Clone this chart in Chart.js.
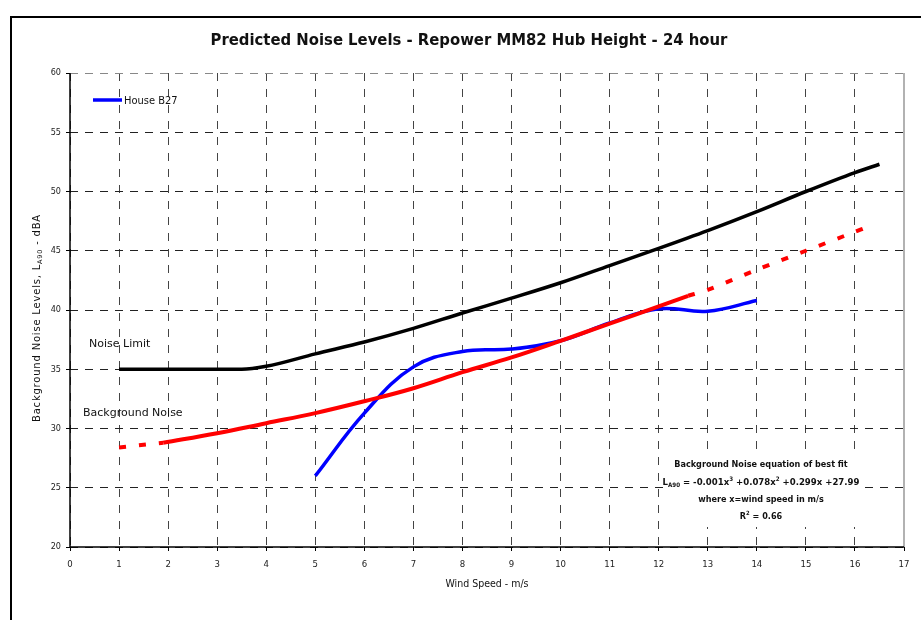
<!DOCTYPE html>
<html>
<head>
    <script src="https://cdn.jsdelivr.net/npm/chart.js@4.4.1/dist/chart.umd.min.js"></script>
    <style>
        body {
            margin: 0;
            background-color: #ffffff;
        }
        #wrap {
            width: 921px;
            height: 620px;
            position: relative;
        }
    </style>
</head>
<body>
    <div id="wrap"><canvas id="noiseChart"></canvas></div>
    <script>
        // values
        var limitSpeed = [1, 2, 3, 3.5, 4, 5, 6, 7, 8, 9, 10, 11, 12, 13, 14, 15, 16, 16.5];
        var limitLevel = [35, 35, 35, 35, 35.25, 36.3, 37.3, 38.45, 39.75, 41.0, 42.3, 43.75, 45.2, 46.7, 48.3, 50.0, 51.6, 52.3];

        var fitSpeed = [1.9, 3, 4, 5, 6, 7, 8, 9, 10, 11, 12, 12.6];
        var fitLevel = [28.8, 29.6, 30.45, 31.3, 32.3, 33.4, 34.75, 36.0, 37.4, 38.85, 40.3, 41.2];

        var fitLowSpeed = [1, 1.9];
        var fitLowLevel = [28.4, 28.8];

        var fitHighSpeed = [12.6, 13, 14, 15, 16, 16.25];
        var fitHighLevel = [41.2, 41.7, 43.4, 45.0, 46.6, 47.0];

        var houseSpeed = [5, 6, 7, 8, 9, 10, 11, 12, 13, 14];
        var houseLevel = [26.0, 31.3, 35.2, 36.5, 36.7, 37.4, 38.9, 40.1, 39.9, 40.8];

        var xTicks = { min: 0, max: 17, step: 1 };
        var yTicks = { min: 20, max: 60, step: 5 };

        function pairs(xs, ys) {
            return xs.map(function (x, i) { return { x: x, y: ys[i] }; });
        }

        var FONT = '"DejaVu Sans Condensed", "DejaVu Sans", sans-serif';
        var WIDE = '"DejaVu Sans", sans-serif';

        // title, labels, legend, frame, solid axes
        var decorations = {
            id: 'decorations',
            afterDraw: function (chart) {
                var ctx = chart.ctx;
                var area = chart.chartArea;
                ctx.save();

                // outer frame
                ctx.strokeStyle = '#000';
                ctx.lineWidth = 2;
                ctx.beginPath();
                ctx.moveTo(11, 620);
                ctx.lineTo(11, 17);
                ctx.lineTo(921, 17);
                ctx.stroke();

                // right edge of plot
                ctx.strokeStyle = '#999';
                ctx.lineWidth = 1.5;
                ctx.beginPath();
                ctx.moveTo(area.right, area.top);
                ctx.lineTo(area.right, area.bottom);
                ctx.stroke();

                // solid axis lines
                ctx.strokeStyle = '#000';
                ctx.lineWidth = 1.5;
                ctx.beginPath();
                ctx.moveTo(area.left, area.top);
                ctx.lineTo(area.left, area.bottom);
                ctx.lineTo(area.right, area.bottom);
                ctx.stroke();

                ctx.fillStyle = '#111';
                ctx.textBaseline = 'middle';

                ctx.font = 'bold 16.5px ' + FONT;
                ctx.textAlign = 'center';
                ctx.fillText('Predicted Noise Levels - Repower MM82 Hub Height - 24 hour', 469, 41);

                // legend
                ctx.strokeStyle = '#0000ff';
                ctx.lineWidth = 3.5;
                ctx.beginPath();
                ctx.moveTo(93, 100);
                ctx.lineTo(122, 100);
                ctx.stroke();
                ctx.font = '11px ' + FONT;
                ctx.textAlign = 'left';
                ctx.fillText('House B27', 124, 101);

                ctx.font = '11px ' + WIDE;
                ctx.fillText('Noise Limit', 89, 344);
                ctx.fillText('Background Noise', 83, 413);

                ctx.font = '10.5px ' + FONT;
                ctx.textAlign = 'center';
                ctx.fillText('Wind Speed - m/s', 487, 584);

                // equation box, white behind it
                ctx.fillStyle = '#ffffff';
                ctx.fillRect(665, 454, 197, 73);
                ctx.fillStyle = '#111';
                ctx.font = 'bold 9px ' + FONT;
                ctx.fillText('Background Noise equation of best fit', 761, 465);
                ctx.fillText('where x=wind speed in m/s', 761, 500);

                var parts = [
                    ['L', 0], ['A90', 1], [' = -0.001x', 0], ['3', -1], [' +0.078x', 0], ['2', -1], [' +0.299x +27.99', 0]
                ];
                drawRich(ctx, parts, 761, 483, 9.5, 'bold ', FONT);
                drawRich(ctx, [['R', 0], ['2', -1], [' = 0.66', 0]], 761, 517, 9, 'bold ', FONT);

                // y axis title, rotated
                ctx.translate(37, 318);
                ctx.rotate(-Math.PI / 2);
                ctx.letterSpacing = '0.8px';
                drawRich(ctx, [['Background Noise Levels, L', 0], ['A90', 1], [' - dBA', 0]], 0, 0, 10, '', WIDE);

                ctx.restore();
            }
        };

        // text with sub/superscripts, centred on cx
        function drawRich(ctx, parts, cx, cy, size, weight, family) {
            var widths = parts.map(function (p) {
                ctx.font = weight + (p[1] ? size * 0.65 : size) + 'px ' + family;
                return ctx.measureText(p[0]).width;
            });
            var total = widths.reduce(function (a, b) { return a + b; }, 0);
            var x = cx - total / 2;
            ctx.textAlign = 'left';
            parts.forEach(function (p, i) {
                ctx.font = weight + (p[1] ? size * 0.65 : size) + 'px ' + family;
                var dy = p[1] === 1 ? size * 0.3 : (p[1] === -1 ? -size * 0.4 : 0);
                ctx.fillText(p[0], x, cy + dy);
                x += widths[i];
            });
            ctx.textAlign = 'center';
        }

        var ctx = document.getElementById('noiseChart').getContext('2d');
        var noiseChart = new Chart(ctx, {
            type: 'line',
            data: {
                datasets: [
                    {
                        label: 'Noise Limit',
                        data: pairs(limitSpeed, limitLevel),
                        borderColor: '#000000',
                        borderWidth: 3.5,
                        cubicInterpolationMode: 'monotone'
                    },
                    {
                        label: 'Background Noise',
                        data: pairs(fitSpeed, fitLevel),
                        borderColor: '#ff0000',
                        borderWidth: 4,
                        tension: 0.4
                    },
                    {
                        label: 'Background Noise (low)',
                        data: pairs(fitLowSpeed, fitLowLevel),
                        borderColor: '#ff0000',
                        borderWidth: 4,
                        borderDash: [7, 13]
                    },
                    {
                        label: 'Background Noise (extrapolated)',
                        data: pairs(fitHighSpeed, fitHighLevel),
                        borderColor: '#ff0000',
                        borderWidth: 4,
                        borderDash: [7, 13],
                        tension: 0.3
                    },
                    {
                        label: 'House B27',
                        data: pairs(houseSpeed, houseLevel),
                        borderColor: '#0000ff',
                        borderWidth: 3.5,
                        tension: 0.4
                    }
                ]
            },
            options: {
                responsive: true,
                maintainAspectRatio: false,
                animation: false,
                elements: {
                    point: { radius: 0, hoverRadius: 0 }
                },
                layout: {
                    padding: { left: 12, right: 17, top: 73, bottom: 0 }
                },
                plugins: {
                    legend: { display: false },
                    tooltip: { enabled: false }
                },
                scales: {
                    x: {
                        type: 'linear',
                        min: xTicks.min,
                        max: xTicks.max,
                        afterFit: function (scale) { scale.height = 73; },
                        ticks: {
                            stepSize: xTicks.step,
                            padding: 8,
                            color: '#222',
                            font: { family: FONT, size: 9.5 },
                            maxRotation: 0
                        },
                        grid: {
                            color: function (c) {
                                return (c.tick && c.tick.value === xTicks.max) ? 'rgba(0,0,0,0)' : '#444';
                            },
                            lineWidth: 1,
                            tickLength: 4,
                            tickColor: '#000',
                            tickBorderDash: []
                        },
                        border: { display: false, dash: [8, 8] }
                    },
                    y: {
                        min: yTicks.min,
                        max: yTicks.max,
                        afterFit: function (scale) { scale.width = 58; },
                        ticks: {
                            stepSize: yTicks.step,
                            padding: 5,
                            color: '#222',
                            font: { family: FONT, size: 9 }
                        },
                        grid: {
                            color: function (c) {
                                return (c.tick && c.tick.value === yTicks.max) ? '#888' : '#222';
                            },
                            lineWidth: 1,
                            tickLength: 4,
                            tickColor: '#000',
                            tickBorderDash: []
                        },
                        border: { display: false, dash: [8, 7] }
                    }
                }
            },
            plugins: [decorations]
        });
    </script>
</body>
</html>
